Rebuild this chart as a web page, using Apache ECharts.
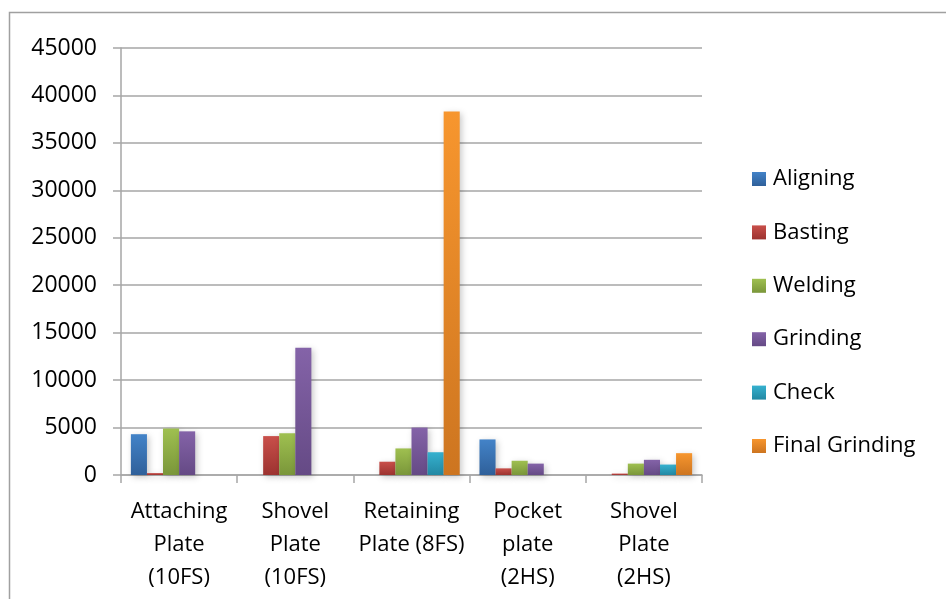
<!DOCTYPE html>
<html>
<head>
<meta charset="utf-8">
<style>
  html, body { margin: 0; padding: 0; background: #ffffff; }
  #chart { width: 946px; height: 599px; }
</style>
<script src="https://cdn.jsdelivr.net/npm/echarts@6/dist/echarts.min.js"></script>
</head>
<body>
<div id="chart"></div>
<script>
// Parts and the process steps timed for each one
const categories = [
  'Attaching\nPlate\n(10FS)',
  'Shovel\nPlate\n(10FS)',
  'Retaining\nPlate (8FS)',
  'Pocket\nplate\n(2HS)',
  'Shovel\nPlate\n(2HS)'
];
const yTicks = { min: 0, max: 45000, interval: 5000 };

// null = step not performed for that part
const aligning      = [4300, null, null, 3750, null];
const basting       = [200, 4100, 1400, 700, 150];
const welding       = [4900, 4400, 2800, 1500, 1200];
const grinding      = [4600, 13400, 5000, 1200, 1600];
const check         = [null, null, 2400, null, 1100];
const finalGrinding = [null, null, 38300, null, 2300];

const seriesDefs = [
  { name: 'Aligning',       data: aligning,      top: '#4383c8', bottom: '#2f609a' },
  { name: 'Basting',        data: basting,       top: '#c94f4a', bottom: '#9c3330' },
  { name: 'Welding',        data: welding,       top: '#9fc050', bottom: '#7a963a' },
  { name: 'Grinding',       data: grinding,      top: '#8463a8', bottom: '#654a85' },
  { name: 'Check',          data: check,         top: '#36b1cf', bottom: '#2288a3' },
  { name: 'Final Grinding', data: finalGrinding, top: '#f7962e', bottom: '#cd7520' }
];

const FONT = 'Open Sans';
const GRID_GRAY = '#a6a6a6';

const chart = echarts.init(document.getElementById('chart'), null, { renderer: 'canvas' });

chart.setOption({
  backgroundColor: '#ffffff',
  animation: false,
  grid: { left: 121, right: 244, top: 48, bottom: 124 },
  legend: {
    orient: 'vertical',
    left: 752,
    top: 167,
    padding: 0,
    itemWidth: 14,
    itemHeight: 14,
    itemGap: 29.4,
    icon: 'rect',
    textStyle: { fontFamily: FONT, fontSize: 22, color: '#000', lineHeight: 24, padding: [0, 0, 0, 2] },
    data: seriesDefs.map(s => s.name)
  },
  xAxis: {
    type: 'category',
    data: categories,
    axisLine: { lineStyle: { color: GRID_GRAY, width: 1.5 } },
    axisTick: { show: true, length: 8, interval: 0, lineStyle: { color: GRID_GRAY, width: 1.5 } },
    axisLabel: { interval: 0, fontFamily: FONT, fontSize: 22, color: '#000', lineHeight: 33, margin: 20 }
  },
  yAxis: {
    type: 'value',
    min: yTicks.min,
    max: yTicks.max,
    interval: yTicks.interval,
    axisLine: { show: true, lineStyle: { color: GRID_GRAY, width: 1.5 } },
    axisTick: { show: true, length: 8, lineStyle: { color: GRID_GRAY, width: 1.5 } },
    splitLine: { lineStyle: { color: GRID_GRAY, width: 1.5 } },
    axisLabel: { fontFamily: FONT, fontSize: 23, color: '#000', margin: 24, formatter: v => String(v) }
  },
  series: seriesDefs.map(s => ({
    name: s.name,
    type: 'bar',
    data: s.data,
    barGap: '0%',
    barCategoryGap: '17%',
    itemStyle: {
      color: new echarts.graphic.LinearGradient(0, 0, 0, 1, [
        { offset: 0, color: s.top },
        { offset: 1, color: s.bottom }
      ]),
      shadowBlur: 6,
      shadowColor: 'rgba(0,0,0,0.22)',
      shadowOffsetX: 2,
      shadowOffsetY: 2
    }
  })),
  graphic: [
    {
      type: 'polyline',
      silent: true,
      shape: { points: [[9.5, 599], [9.5, 12.5], [946, 12.5]] },
      style: { stroke: '#a0a0a0', lineWidth: 1.5, fill: null }
    }
  ]
});
</script>
</body>
</html>
